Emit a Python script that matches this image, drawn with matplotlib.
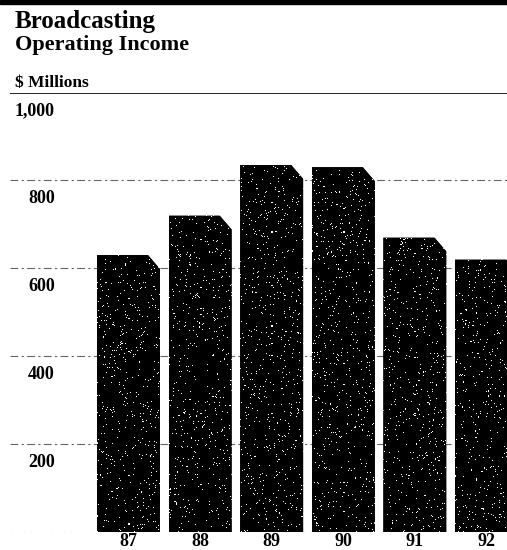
import numpy as np
import matplotlib.pyplot as plt
from matplotlib.patches import Polygon, Rectangle
from matplotlib.transforms import blended_transform_factory, ScaledTranslation

years = ['87', '88', '89', '90', '91', '92']
income = [630, 720, 835, 830, 670, 620]   # operating income, $ millions
grid_vals = [200, 400, 600, 800]
ytick_labels = ['1,000', '800', '600', '400', '200']
ytick_vals = [1000, 800, 600, 400, 200]

plt.rcParams['font.family'] = ['Liberation Serif', 'DejaVu Serif']

W, H = 507, 550
fig = plt.figure(figsize=(W / 100, H / 100), dpi=100)

# plot area in pixels: x 10..507, y 92..532 (from top)
ax = fig.add_axes([10 / W, (H - 532) / H, (W - 10) / W, (532 - 92.5) / H])
for s in ax.spines.values():
    s.set_visible(False)

x = np.arange(len(years))

# grid
for v in grid_vals:
    ax.axhline(v, color='#666666', lw=0.8, ls=(0, (7, 3, 2, 3)), zorder=1)
ax.axhline(1000, color='black', lw=1.2, zorder=1)
ax.axhline(0, color='#666666', lw=0.8, ls=(0, (2, 4)), zorder=1)

bars = ax.bar(x, income, width=0.88, color='black', zorder=2)

# cut the top right corner of each bar and give it a speckled fill
rng = np.random.default_rng(3)
bx, by = 12 / 71.6, 14 / 0.44
for b in bars:
    x0, w, h = b.get_x(), b.get_width(), b.get_height()
    poly = Polygon([(x0, 0), (x0, h), (x0 + w - bx, h), (x0 + w, h - by), (x0 + w, 0)],
                   closed=True, transform=ax.transData, facecolor='none', edgecolor='none')
    ax.add_patch(poly)
    b.set_clip_path(poly)
    rows, cols = int(h * 0.44), 63
    speck = (rng.random((rows, cols)) > 0.972).astype(float)
    im = ax.imshow(speck, cmap='gray', vmin=0, vmax=1, extent=(x0, x0 + w, 0, h),
                   aspect='auto', interpolation='nearest', zorder=3)
    im.set_clip_path(poly)

ax.set_xlim((10 - 128.5) / 71.6, (507 - 128.5) / 71.6)
ax.set_ylim(0, 1000)

ax.set_xticks(x, years, fontsize=13, fontweight='bold')
ax.tick_params(axis='x', length=0, pad=1)
ax.set_yticks([])

# value labels sit just under their grid lines
trans = blended_transform_factory(fig.transFigure, ax.transData) + \
    ScaledTranslation(0, -0.18, fig.dpi_scale_trans)
for v, lab in zip(ytick_vals, ytick_labels):
    ax.text(55 / W, v, lab, transform=trans, ha='right', va='center',
            fontsize=13, fontweight='bold')

# header
fig.add_artist(Rectangle((0, 1 - 4 / H), 1, 4 / H, transform=fig.transFigure,
                         color='black'))
fig.text(15 / W, 1 - 28 / H, 'Broadcasting', fontsize=18, fontweight='bold',
         va='baseline', ha='left')
fig.text(15 / W, 1 - 50 / H, 'Operating Income', fontsize=16, fontweight='bold',
         va='baseline', ha='left')
fig.text(15 / W, 1 - 87 / H, '$ Millions', fontsize=12.5, fontweight='bold',
         va='baseline', ha='left')

fig.savefig('out.png', dpi=100)
